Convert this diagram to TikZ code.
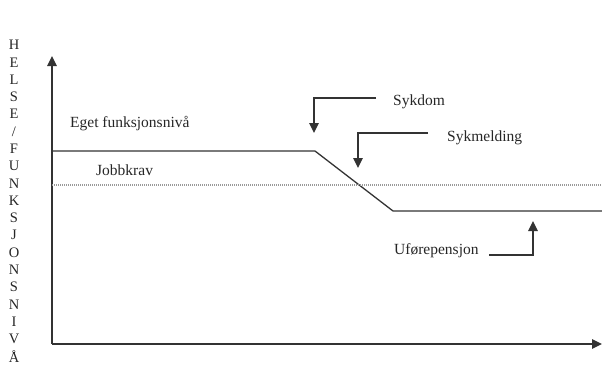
\documentclass[tikz,border=0pt]{standalone}
\usepackage{fontspec}
\setmainfont{Liberation Serif}
\usetikzlibrary{arrows.meta}
\begin{document}
\begin{tikzpicture}[x=1pt,y=-1pt,
  line/.style={draw=black!80,line width=1.3pt},
  tip/.style={-{Triangle[length=10pt,width=9.5pt]}},
  label/.style={font=\fontsize{15.5}{18}\selectfont,text=black!85,inner sep=0pt},
  axislabel/.style={font=\fontsize{14.5}{16}\selectfont,text=black!85,inner sep=0pt}]
\useasboundingbox (0,0) rectangle (602,365);
% axes
\coordinate (origin) at (52,344);
\coordinate (ytop) at (52,56);
\coordinate (xend) at (602,344);
\draw[line,tip] (origin) -- (ytop);
\draw[line,tip] (origin) -- (xend);
% vertical axis title, one letter per line
\foreach \ch [count=\i from 0] in {H,E,L,S,E,/,F,U,N,K,S,J,O,N,S,N,I,V,Å}
  \node[axislabel] (v\i) at (14,{45+\i*17.3}) {\ch};
% function level curve
\coordinate (f0) at (52,151);
\coordinate (f1) at (315,151);
\coordinate (f2) at (393,211);
\coordinate (f3) at (602,211);
\draw[line] (f0) -- (f1) -- (f2) -- (f3);
% job demand level
\coordinate (j0) at (52,185);
\coordinate (j1) at (602,185);
\draw[black!40,line width=1.2pt,dash pattern=on 1.2pt off 0.8pt] (j0) -- (j1);
% labels
\node[label,anchor=west] (eget) at (70,124) {Eget funksjonsnivå};
\node[label,anchor=west] (jobb) at (96,170) {Jobbkrav};
\node[label,anchor=west] (sykdom) at (393,102) {Sykdom};
\node[label,anchor=west] (sykm) at (447,138) {Sykmelding};
\node[label,anchor=west] (ufor) at (394,251) {Uførepensjon};
% event arrows
\coordinate (s0) at (376,98);
\coordinate (s1) at (314,98);
\coordinate (s2) at (314,133);
\draw[line,tip] (s0) -- (s1) -- (s2);
\coordinate (m0) at (428,133);
\coordinate (m1) at (358,133);
\coordinate (m2) at (358,168);
\draw[line,tip] (m0) -- (m1) -- (m2);
\coordinate (u0) at (489,255);
\coordinate (u1) at (533,255);
\coordinate (u2) at (533,221);
\draw[line,tip] (u0) -- (u1) -- (u2);
\end{tikzpicture}
\end{document}
